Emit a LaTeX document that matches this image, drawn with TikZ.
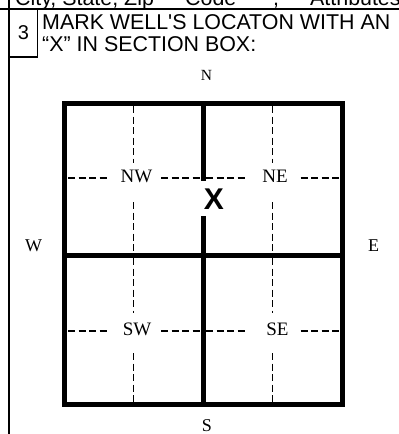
\documentclass[tikz,border=0pt]{standalone}
\usepackage{fontspec}
\setmainfont{Liberation Serif}
\newfontfamily\arialf{Liberation Sans}
\begin{document}
\begin{tikzpicture}[x=1pt,y=-1pt,
  frame/.style={line width=1.3pt,black},
  thick line/.style={line width=5pt,black,line cap=rect},
  dash line/.style={line width=1.4pt,black,dash pattern=on 7pt off 3.5pt},
  title/.style={font=\arialf\fontsize{21.4}{24}\selectfont,anchor=base west,inner sep=0},
  quad/.style={font=\fontsize{19}{21}\selectfont,inner sep=0},
  compass/.style={font=\fontsize{18}{20}\selectfont,inner sep=0}]
\useasboundingbox (0,0) rectangle (399,434);
\clip (0,0) rectangle (399,434);
% cut header fragments
\node[title] (hdrA) at (15,5) {City, State, Zip};
\node[title] (hdrB) at (185,5) {Code};
\node[title] (hdrC) at (273,5) {,};
\node[title] (hdrD) at (310,5) {Attributes};
% frame
\draw[frame] (0,9) -- (399,9);
\draw[frame] (9,0) -- (9,434);
\draw[frame] (9,9) rectangle (37.5,57);
\node[font=\arialf\fontsize{20}{22}\selectfont,anchor=base,inner sep=0] (num) at (23.5,39) {3};
\node[title] (t1) at (42,29) {MARK WELL'S LOCATON WITH AN};
\node[title] (t2) at (42,51) {“X” IN SECTION BOX:};
% dashed quarter lines
\foreach \x in {133.3,272.3}{
  \draw[dash line] (\x,106) -- (\x,163);
  \draw[dash line] (\x,202) -- (\x,252);
  \draw[dash line] (\x,258) -- (\x,313);
  \draw[dash line] (\x,353) -- (\x,402);
}
\foreach \y in {178,331}{
  \draw[dash line] (68,\y) -- (108.5,\y);
  \draw[dash line] (161,\y) -- (201,\y);
  \draw[dash line] (206,\y) -- (248,\y);
  \draw[dash line] (300.5,\y) -- (339,\y);
}
% thick section box
\draw[thick line] (64.5,103) rectangle (342,404.5);
\draw[thick line] (64.5,255) -- (342,255);
\draw[thick line] (203,103) -- (203,178.5);
\draw[thick line] (203,218.5) -- (203,404.5);
% labels
\node[quad] (nw) at (136.5,176) {NW};
\node[quad] (ne) at (275,176) {NE};
\node[quad] (sw) at (137,329) {SW};
\node[quad] (se) at (277.5,329) {SE};
\node[font=\arialf\bfseries\fontsize{30}{31}\selectfont,inner sep=0] (xmark) at (214,199) {X};
\node[font=\fontsize{15.5}{17}\selectfont,inner sep=0] (n) at (206.5,75) {N};
\node[compass] (w) at (33.5,246) {W};
\node[compass] (e) at (373.5,246) {E};
\node[compass] (s) at (207,426) {S};
\end{tikzpicture}
\end{document}
